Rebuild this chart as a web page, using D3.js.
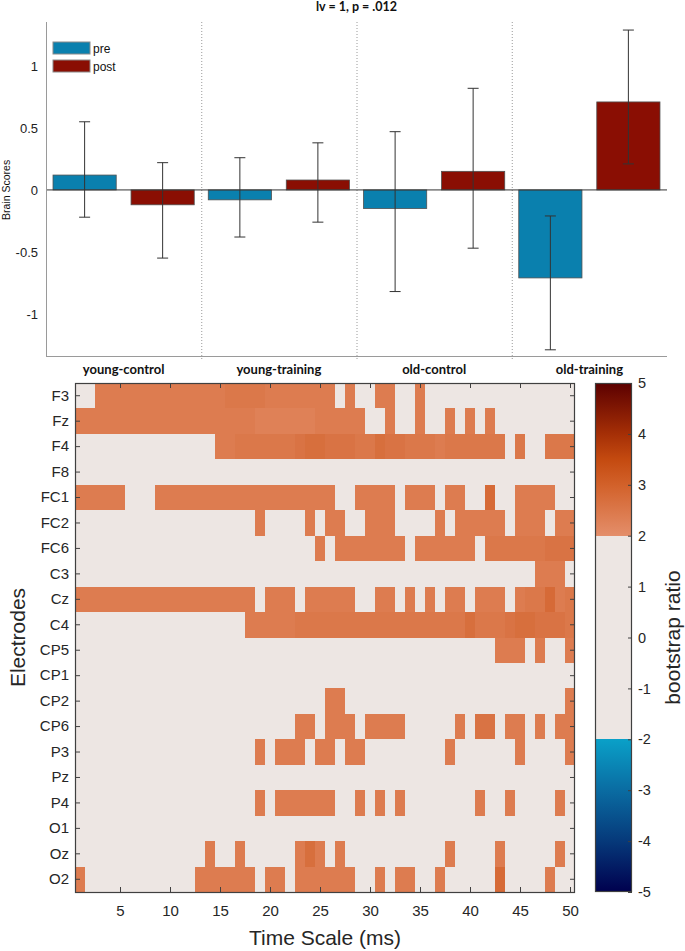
<!DOCTYPE html>
<html><head><meta charset="utf-8">
<script src="https://cdn.jsdelivr.net/npm/d3@7"></script>
<style>html,body{margin:0;padding:0;background:#fff;} svg{display:block;}</style>
</head><body><svg id="chart" width="685" height="951"></svg>
<script>
// ---------- DATA: bar chart ----------
const barTitle = "lv = 1, p = .012";
const groups = ["young-control", "young-training", "old-control", "old-training"];
const phases = ["pre", "post"];
const preScores  = [0.12, -0.08, -0.15, -0.71];
const preLower   = [-0.22, -0.38, -0.82, -1.29];
const preUpper   = [0.55, 0.26, 0.47, -0.21];
const postScores = [-0.12, 0.08, 0.15, 0.71];
const postLower  = [-0.55, -0.26, -0.47, 0.21];
const postUpper  = [0.22, 0.38, 0.82, 1.29];
const barTicks = [-1, -0.5, 0, 0.5, 1];
const phaseColors = ["#0A80AE", "#8A0E03"];

// ---------- DATA: bootstrap-ratio heat map ----------
const electrodes = ["F3","Fz","F4","F8","FC1","FC2","FC6","C3","Cz","C4",
                    "CP5","CP1","CP2","CP6","P3","Pz","P4","O1","Oz","O2"];
// one string per electrode, time points 1..50 (groups of 10);
// "." = |ratio| < 2, digit d = ratio 2.d
const bsrRows = [
  "..44444444 4444455554 444444.4.. 44..4..... ..........", // F3
  "4444444444 4444444433 333344444. .4..4..4.4 .4........", // Fz
  ".......... ....445555 5567766655 7665554555 555.5..555", // F4
  ".......... .......... .......... .......... ..........", // F8
  "44444...44 4444444444 444444..44 44.444.44. .8..4444..", // FC1
  ".......... ........4. ...4.44..4 44....4.44 444.444.44", // FC2
  ".......... .......... ....4.4444 444.444444 .555555666", // FC6
  ".......... .......... .......... .......... ......444.", // C3
  "4444444444 44444444.4 44.44444.. 44.4.4.44. 444.455845", // Cz
  ".......... .......444 4455555555 5555555557 5556776665", // C4
  ".......... .......... .......... .......... ..444.4..4", // CP5
  ".......... .......... .......... .......... ..........", // CP1
  ".......... .......... .....44... .......... .........4", // CP2
  ".......... .......... ..44.444.4 444.....4. 66.44.4.44", // CP6
  ".......... ........4. 444.44.44. .......4.. ....4....4", // P3
  ".......... .......... .......... .......... ..........", // Pz
  ".......... ........4. 444444..4. 4.4....... 4..4....4.", // P4
  ".......... .......... .......... .......... ..........", // O1
  ".......... ...4..4... ..474.4... .......4.. ..4.....4.", // Oz
  "4......... ..444444.4 4.444444.. 4.44..4... ..8....4.."  // O2
];
const timeTicks = [5, 10, 15, 20, 25, 30, 35, 40, 45, 50];
const timeRange = [1, 50];
const cbarTicks = [-5, -4, -3, -2, -1, 0, 1, 2, 3, 4, 5];
const cmapStops  = [-5, -4, -3, -2, -1.999, 1.999, 2, 3, 3.5, 4, 5];
const cmapColors = ["#00004E", "#06397A", "#0A6CA2", "#0AA0C8", "#EDE6E3", "#EDE6E3",
                    "#E48E6A", "#D2612A", "#C44A10", "#A52F06", "#5C0000"];

// ---------- DRAW ----------
const W = 685, H = 951;
const svg = d3.select("#chart");
svg.append("rect").attr("width", W).attr("height", H).attr("fill", "#fff");

const sansFont = "'Liberation Sans', Arial, sans-serif";
const boldFont = "Lato, 'Open Sans', sans-serif";

// ===== Bar chart =====
const bm = {left: 46, right: 667, top: 22, bottom: 356};
const x0 = d3.scaleBand().domain(groups).range([bm.left, bm.right]).paddingInner(0).paddingOuter(0);
const x1 = d3.scaleBand().domain(phases).range([0, x0.bandwidth()]).paddingInner(0.19).paddingOuter(0.09);
const yB = d3.scaleLinear().domain([-1.34, 1.355]).range([bm.bottom, bm.top]);
const colorP = d3.scaleOrdinal().domain(phases).range(phaseColors);

const barData = groups.flatMap((g, i) => [
  {g, p: "pre",  v: preScores[i],  lo: preLower[i],  hi: preUpper[i]},
  {g, p: "post", v: postScores[i], lo: postLower[i], hi: postUpper[i]}
]);

const bar = svg.append("g");
bar.selectAll("line.sep").data(groups.slice(1)).join("line")
  .attr("x1", d => x0(d) + 0.5).attr("x2", d => x0(d) + 0.5)
  .attr("y1", bm.top).attr("y2", bm.bottom + 3)
  .attr("stroke", "#9a9a9a").attr("stroke-width", 1).attr("stroke-dasharray", "1,2");

bar.selectAll("rect.bar").data(barData).join("rect")
  .attr("x", d => x0(d.g) + x1(d.p))
  .attr("width", x1.bandwidth())
  .attr("y", d => Math.min(yB(d.v), yB(0)))
  .attr("height", d => Math.abs(yB(d.v) - yB(0)))
  .attr("fill", d => colorP(d.p))
  .attr("stroke", "#505050").attr("stroke-width", 0.8);

bar.append("line").attr("x1", bm.left).attr("x2", bm.right)
  .attr("y1", yB(0)).attr("y2", yB(0)).attr("stroke", "#333").attr("stroke-width", 1);

const eb = bar.selectAll("g.eb").data(barData).join("g")
  .attr("transform", d => `translate(${x0(d.g) + x1(d.p) + x1.bandwidth() / 2},0)`);
eb.append("line").attr("y1", d => yB(d.lo)).attr("y2", d => yB(d.hi))
  .attr("stroke", "#333").attr("stroke-width", 1);
eb.append("line").attr("x1", -5.5).attr("x2", 5.5).attr("y1", d => yB(d.lo)).attr("y2", d => yB(d.lo))
  .attr("stroke", "#333").attr("stroke-width", 1);
eb.append("line").attr("x1", -5.5).attr("x2", 5.5).attr("y1", d => yB(d.hi)).attr("y2", d => yB(d.hi))
  .attr("stroke", "#333").attr("stroke-width", 1);

const yAxB = bar.append("g").attr("transform", `translate(${bm.left},0)`)
  .call(d3.axisLeft(yB).tickValues(barTicks).tickSize(0).tickPadding(8).tickFormat(d => String(d)));
yAxB.select(".domain").remove();
yAxB.selectAll("text").attr("font-family", sansFont).attr("font-size", 13).attr("fill", "#222");
bar.append("line").attr("x1", bm.left + 0.5).attr("x2", bm.left + 0.5).attr("y1", bm.top).attr("y2", bm.bottom)
  .attr("stroke", "#9a9a9a");
bar.append("line").attr("x1", bm.left).attr("x2", bm.right).attr("y1", bm.bottom + 0.5).attr("y2", bm.bottom + 0.5)
  .attr("stroke", "#9a9a9a");

const xAxB = bar.append("g").attr("transform", `translate(0,${bm.bottom})`)
  .call(d3.axisBottom(x0).tickSize(0).tickPadding(9));
xAxB.select(".domain").remove();
xAxB.selectAll("text").attr("font-family", boldFont).attr("font-weight", "bold")
  .attr("font-size", 13).attr("fill", "#111");

bar.append("text").attr("x", (bm.left + bm.right) / 2).attr("y", 11).attr("text-anchor", "middle")
  .attr("font-family", boldFont).attr("font-weight", "bold").attr("font-size", 12.5).attr("fill", "#111")
  .text(barTitle);

bar.append("text").attr("transform", `translate(10,${yB(0)}) rotate(-90)`).attr("text-anchor", "middle")
  .attr("font-family", sansFont).attr("font-size", 10.5).attr("fill", "#111").text("Brain Scores");

const lg = bar.selectAll("g.lg").data(phases).join("g")
  .attr("transform", (d, i) => `translate(53,${42 + i * 18})`);
lg.append("rect").attr("width", 37).attr("height", 12).attr("fill", d => colorP(d))
  .attr("stroke", "#8a8a8a").attr("stroke-width", 1);
lg.append("text").attr("x", 40).attr("y", 10.5).attr("font-family", sansFont).attr("font-size", 12)
  .attr("fill", "#111").text(d => d);

// ===== Heat map =====
const hm = {left: 75, right: 575, top: 383, bottom: 892};
const xH = d3.scaleLinear().domain([timeRange[0] - 0.5, timeRange[1] + 0.5]).range([hm.left, hm.right]);
const yH = d3.scaleBand().domain(electrodes).range([hm.top, hm.bottom]);
const cmap = d3.scaleLinear().domain(cmapStops).range(cmapColors).clamp(true);

const cells = [];
bsrRows.forEach((s, ri) => {
  s.replace(/ /g, "").split("").forEach((ch, ci) => {
    cells.push({e: electrodes[ri], t: ci + 1, v: ch === "." ? 0 : 2 + (+ch) / 10});
  });
});
const heat = svg.append("g");
heat.selectAll("rect.cell").data(cells).join("rect")
  .attr("x", d => xH(d.t - 0.5)).attr("width", xH(1.5) - xH(0.5) + 0.3)
  .attr("y", d => yH(d.e)).attr("height", yH.bandwidth() + 0.3)
  .attr("fill", d => cmap(d.v)).attr("shape-rendering", "crispEdges");

const axCol = "#404040";
function styleAxis(g) {
  g.select(".domain").remove();
  g.selectAll(".tick line").attr("stroke", axCol);
  g.selectAll("text").attr("font-family", sansFont).attr("fill", "#262626");
}
heat.append("g").attr("transform", `translate(${hm.left},0)`)
  .call(d3.axisLeft(yH).tickSize(-5).tickPadding(6)).call(styleAxis)
  .selectAll("text").attr("font-size", 15);
heat.append("g").attr("transform", `translate(${hm.right},0)`)
  .call(d3.axisRight(yH).tickSize(-5).tickFormat("")).call(styleAxis);
heat.append("g").attr("transform", `translate(0,${hm.top})`)
  .call(d3.axisTop(xH).tickValues(timeTicks).tickSize(-5).tickFormat("")).call(styleAxis);
heat.append("g").attr("transform", `translate(0,${hm.bottom})`)
  .call(d3.axisBottom(xH).tickValues(timeTicks).tickSize(-5).tickPadding(13)).call(styleAxis)
  .selectAll("text").attr("font-size", 15);
heat.append("rect").attr("x", hm.left + 0.5).attr("y", hm.top + 0.5)
  .attr("width", hm.right - hm.left - 1).attr("height", hm.bottom - hm.top)
  .attr("fill", "none").attr("stroke", axCol).attr("stroke-width", 1.2);

heat.append("text").attr("x", (hm.left + hm.right) / 2).attr("y", 945).attr("text-anchor", "middle")
  .attr("font-family", sansFont).attr("font-size", 21).attr("fill", "#262626").text("Time Scale (ms)");
heat.append("text").attr("transform", `translate(25,${(hm.top + hm.bottom) / 2}) rotate(-90)`)
  .attr("text-anchor", "middle").attr("font-family", sansFont).attr("font-size", 21).attr("fill", "#262626")
  .text("Electrodes");

// ===== Colour bar =====
const cb = {left: 595, right: 632, top: hm.top, bottom: hm.bottom};
const yC = d3.scaleLinear().domain([cbarTicks[0], cbarTicks[cbarTicks.length - 1]]).range([cb.bottom, cb.top]);
const grad = svg.append("defs").append("linearGradient").attr("id", "cbgrad")
  .attr("x1", 0).attr("y1", 1).attr("x2", 0).attr("y2", 0);
grad.selectAll("stop").data(cmapStops).join("stop")
  .attr("offset", d => (d - cmapStops[0]) / (cmapStops[cmapStops.length - 1] - cmapStops[0]))
  .attr("stop-color", (d, i) => cmapColors[i]);
svg.append("rect").attr("x", cb.left).attr("y", cb.top).attr("width", cb.right - cb.left)
  .attr("height", cb.bottom - cb.top).attr("fill", "url(#cbgrad)");
svg.append("g").attr("transform", `translate(${cb.right},0)`)
  .call(d3.axisRight(yC).tickValues(cbarTicks).tickSize(-4).tickPadding(6).tickFormat(d => String(d)))
  .call(styleAxis).selectAll("text").attr("font-size", 14.5);
svg.append("rect").attr("x", cb.left + 0.5).attr("y", cb.top + 0.5).attr("width", cb.right - cb.left - 1)
  .attr("height", cb.bottom - cb.top - 1).attr("fill", "none").attr("stroke", axCol).attr("stroke-width", 1.2);
svg.append("text").attr("transform", `translate(680,${(cb.top + cb.bottom) / 2}) rotate(-90)`)
  .attr("text-anchor", "middle").attr("font-family", sansFont).attr("font-size", 21).attr("fill", "#262626")
  .text("bootstrap ratio");
</script></body></html>
